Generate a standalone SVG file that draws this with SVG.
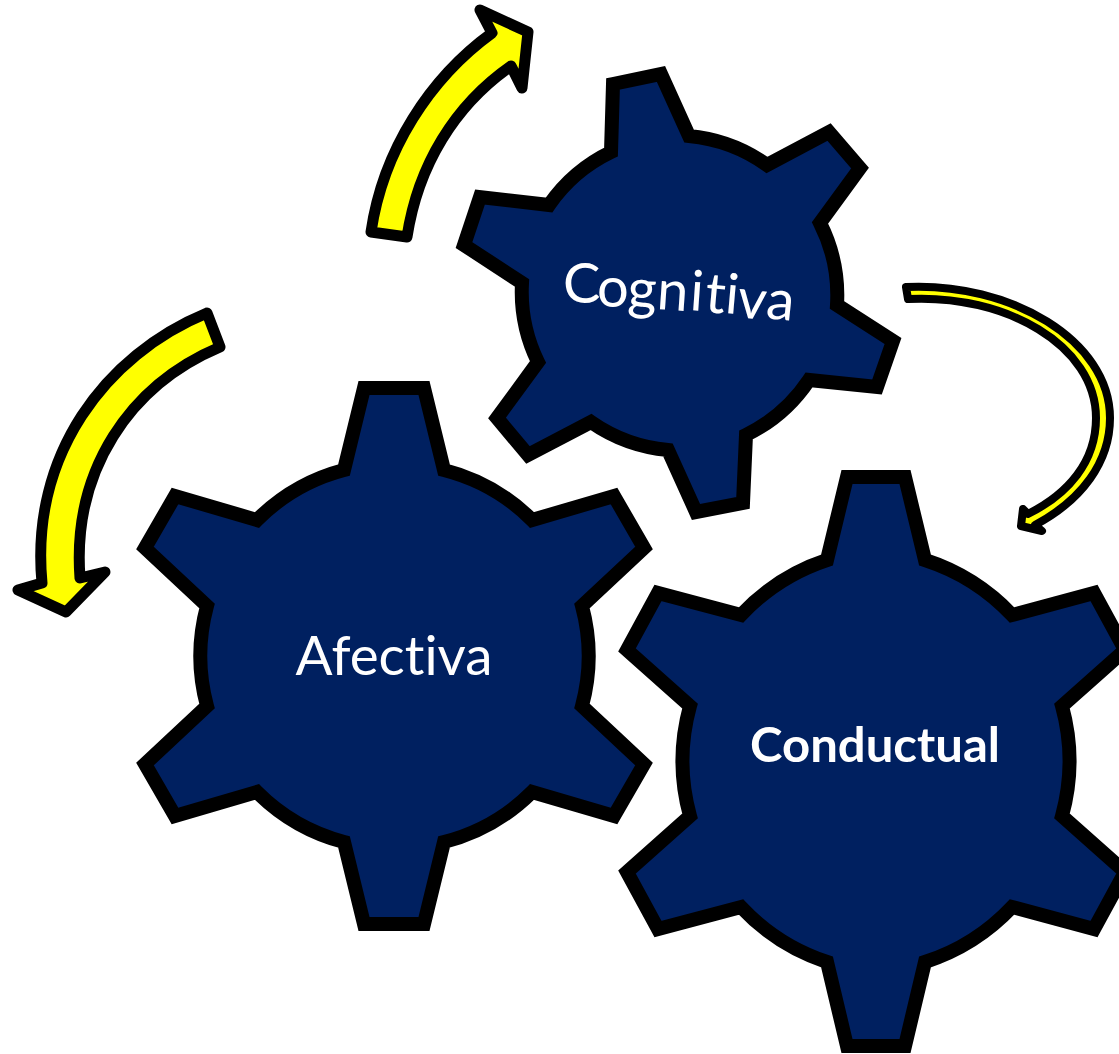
<svg xmlns="http://www.w3.org/2000/svg" width="1119" height="1054" viewBox="0 0 1119 1054">
<style>
.gear{fill:#002060;stroke:#000;stroke-width:14;stroke-linejoin:miter}
.arrow{fill:#ff0;stroke:#000;stroke-width:11;stroke-linejoin:round}
.label{fill:#fff;font-family:Lato,"Open Sans",sans-serif;font-variant-ligatures:none}
</style>
<rect width="1119" height="1054" fill="#fff"/>
<g id="connectors">
<path id="arrow-top" class="arrow" d="M371,232 C383,150 430,78 492,33 L480,10 L528,32 L522,88 L511,66 C455,105 418,165 407,237 Z"/>
<path id="arrow-left" class="arrow" d="M207,313 C105,355 30,455 42,583 L18,590 L66,612 L105,572 L80,578 C72,470 130,385 220,347 Z"/>
<path id="arrow-right" class="arrow" style="stroke-width:8" d="M906,287 C1010,282 1110,340 1110,418 C1110,462 1082,500 1035,525 L1042,531 L1021,526 L1023,509 L1028,514 C1068,494 1096,462 1096,418 C1096,345 1005,294 908,299 Z"/>
</g>
<g id="cognitiva">
<path class="gear" d="M613,84 L661,74 L689,136 A160,160 0 0 1 767,165 L829,132 L860,168 L820,223 A160,160 0 0 1 837,305 L893,341 L877,387 L809,380 A160,160 0 0 1 746,435 L743,503 L696,512 L668,450 A160,160 0 0 1 591,422 L528,455 L497,418 L538,362 A160,160 0 0 1 522,283 L464,245 L480,197 L549,205 A160,160 0 0 1 611,152 Z"/>
<text class="label" font-size="56" x="563 597 627 656 689 704 724 736 765" y="303 307 308 309 310 312 313 317 318" rotate="0 0 2 4 4 5 5 6 6">Cognitiva</text>
</g>
<g id="afectiva">
<path class="gear" d="M364,388 L424,388 L444,470 A192,192 0 0 1 532,520 L614,496 L644,548 L582,606 A192,192 0 0 1 582,706 L644,764 L614,816 L532,792 A192,192 0 0 1 444,842 L424,924 L364,924 L344,842 A192,192 0 0 1 257,792 L175,816 L145,764 L207,706 A192,192 0 0 1 207,606 L145,548 L175,496 L257,520 A192,192 0 0 1 344,470 Z"/>
<text class="label" font-size="54" x="394" y="675" text-anchor="middle" textLength="197" lengthAdjust="spacingAndGlyphs">Afectiva</text>
</g>
<g id="conductual">
<path class="gear" d="M847,477 L905,477 L925,560 A207,207 0 0 1 1012,615 L1094,593 L1125,650 L1062,706 A207,207 0 0 1 1062,816 L1125,872 L1094,929 L1012,907 A207,207 0 0 1 925,962 L905,1046 L847,1046 L827,962 A207,207 0 0 1 741,907 L658,929 L627,872 L690,816 A207,207 0 0 1 690,706 L627,650 L658,593 L741,615 A207,207 0 0 1 827,560 Z"/>
<text class="label" font-size="48" font-weight="700" x="875" y="762" text-anchor="middle" textLength="250" lengthAdjust="spacingAndGlyphs">Conductual</text>
</g>
</svg>
